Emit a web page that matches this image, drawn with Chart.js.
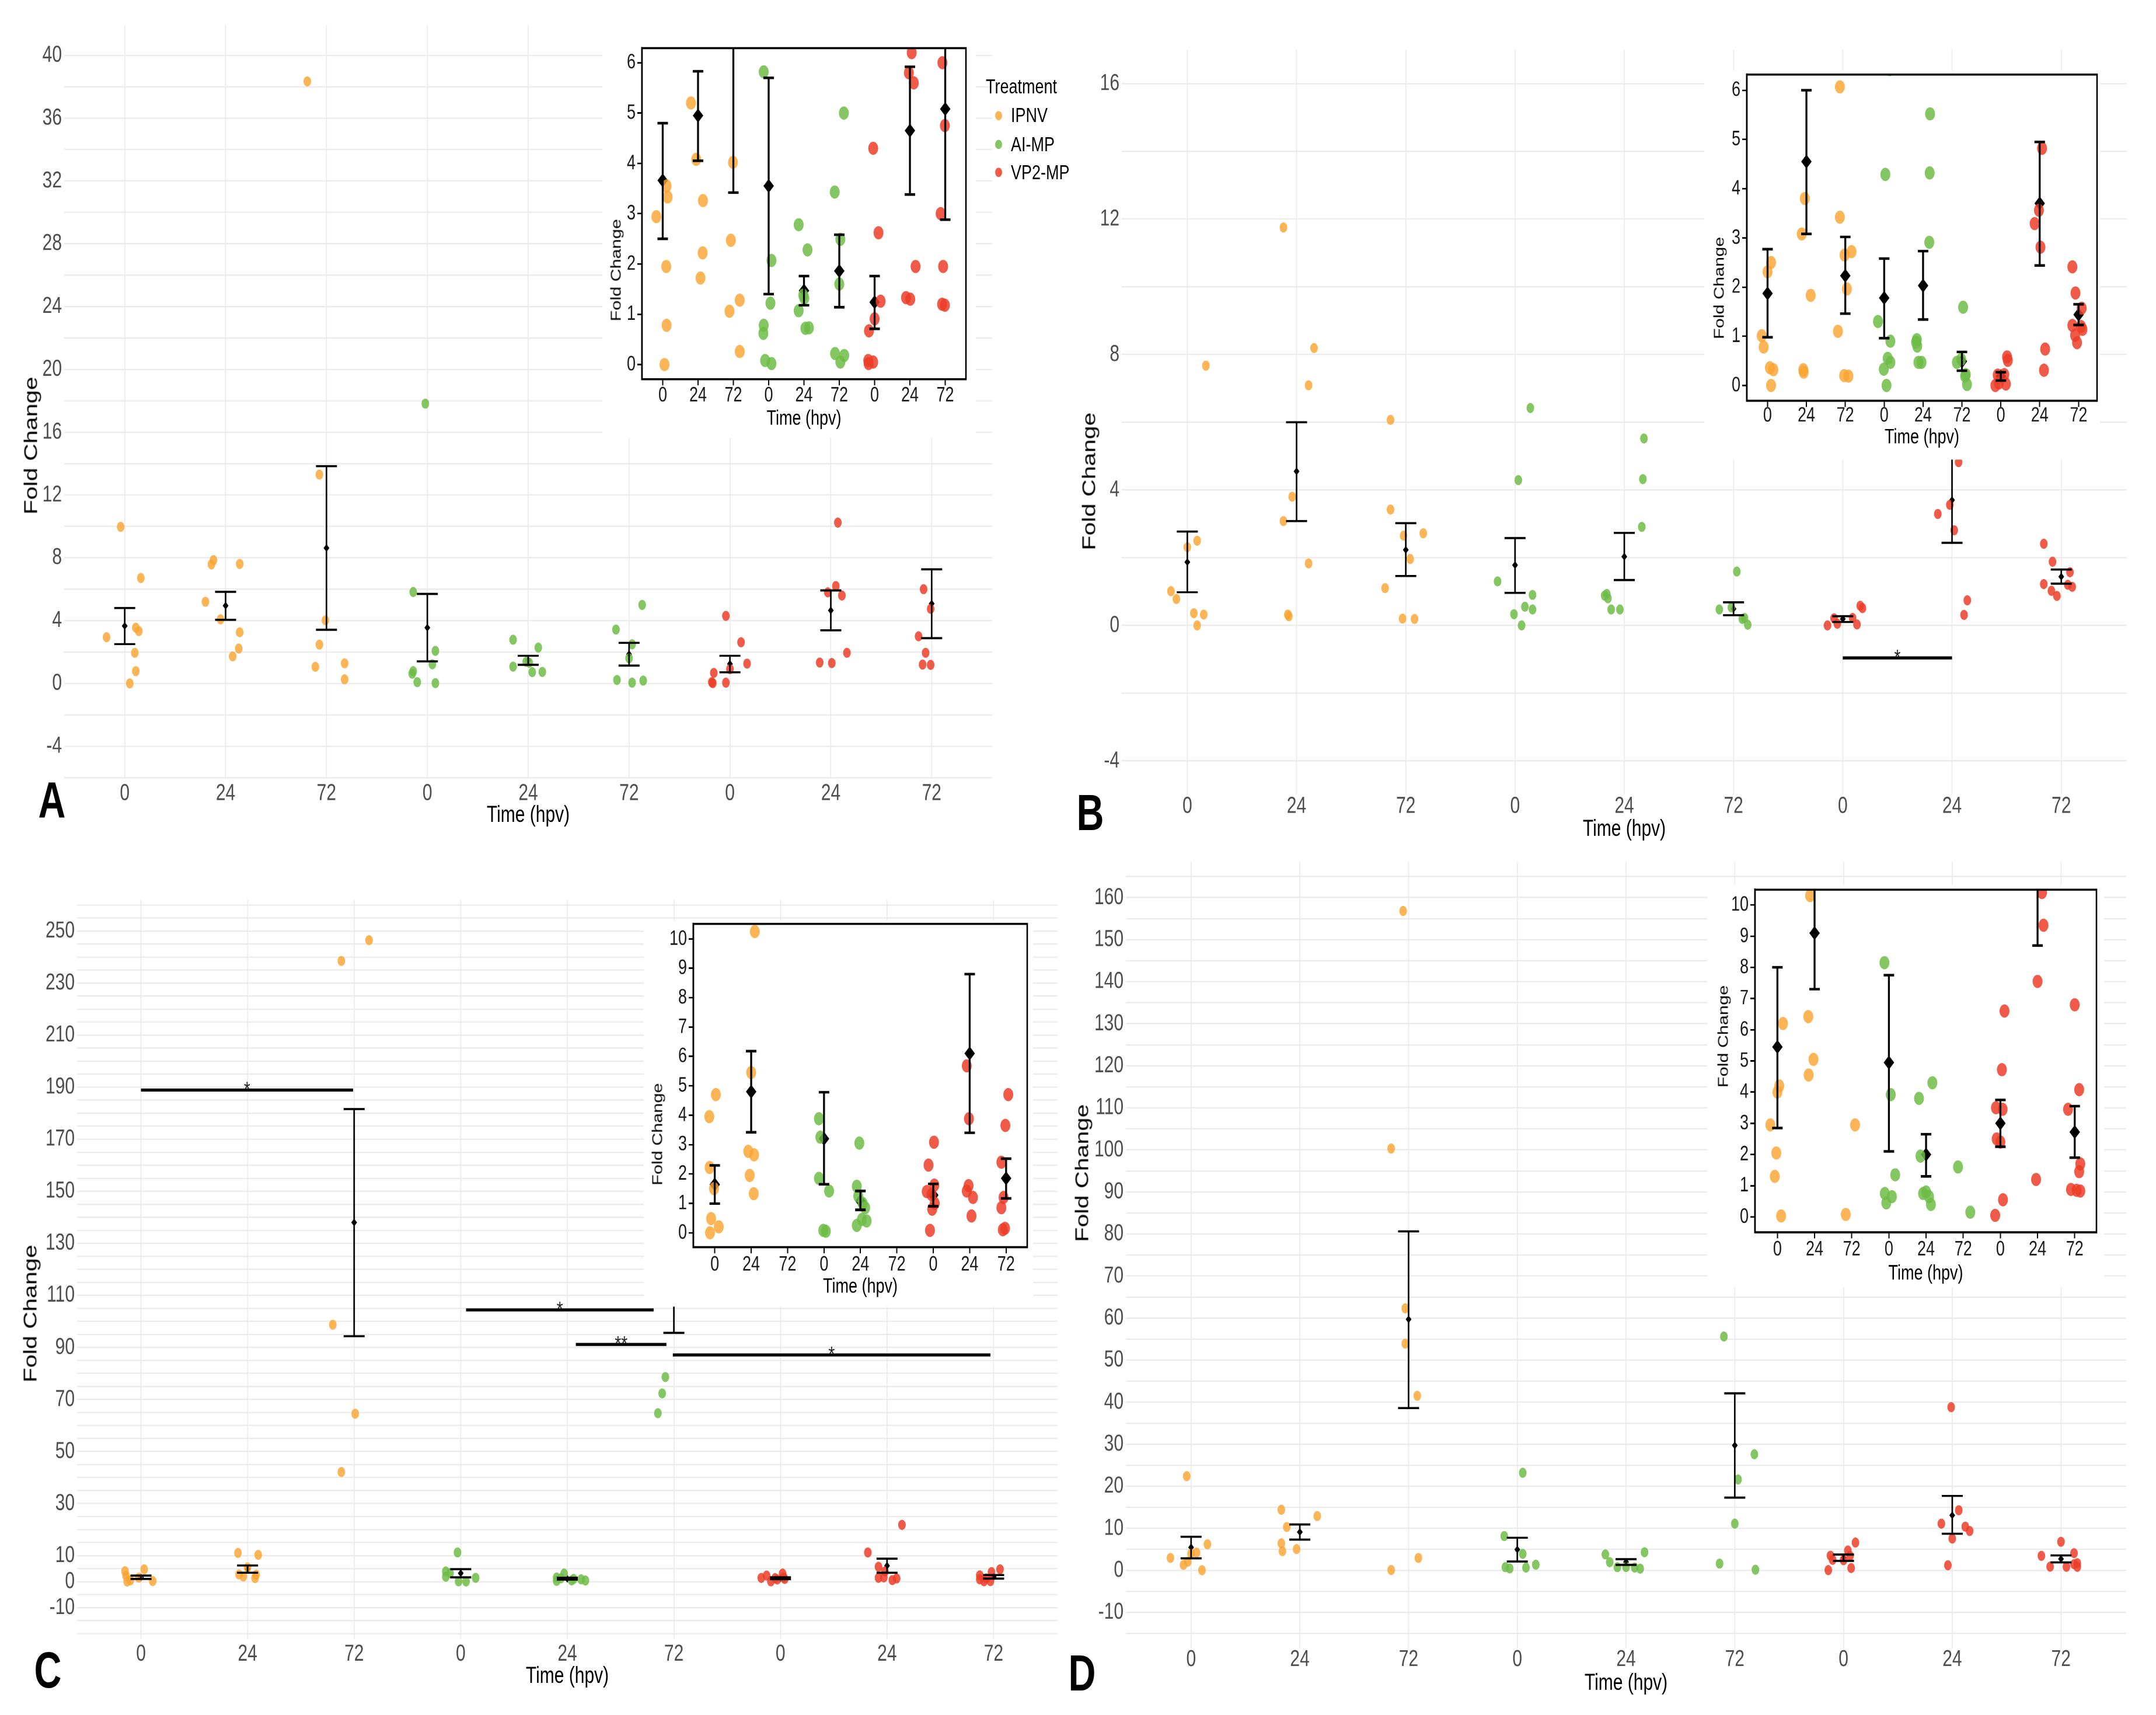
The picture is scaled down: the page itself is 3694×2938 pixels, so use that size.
<!DOCTYPE html>
<html>
<head>
<meta charset="utf-8">
<title>Fold change panels A-D</title>
<script src="https://cdn.jsdelivr.net/npm/chart.js@4.4.1/dist/chart.umd.min.js"></script>
<style>
  html, body { margin: 0; padding: 0; background: #fff; overflow: hidden; }
  #fig {
    position: absolute; left: 0; top: 0; width: 3694px; height: 2209px;
    transform: scaleY(1.33); transform-origin: 0 0;
    font-family: "Liberation Sans", Arial, Helvetica, sans-serif; color: #000;
  }
  .white { position: absolute; background: #fff; }
  .txt { position: absolute; white-space: nowrap; line-height: 1; }
</style>
</head>
<body>
<div id="fig"></div>
<script>
// ---- shared labels ----
const TIME_LABELS = ['0', '24', '72', '0', '24', '72', '0', '24', '72'];
const TREATMENTS = ['IPNV', 'AI-MP', 'VP2-MP'];
const COLORS = ['rgba(250,165,50,0.82)', 'rgba(110,188,70,0.85)', 'rgba(236,62,40,0.85)'];

// ---- panel A ----
const A_VALUES = [
  [9.97, 6.71, 3.55, 3.33, 2.94, 1.95, 0.78, 0.0],
  [7.85, 7.58, 7.61, 5.2, 4.08, 3.26, 2.22, 1.72],
  [38.34, 13.3, 4.02, 2.47, 1.28, 1.06, 0.26],
  [17.82, 5.82, 2.07, 1.22, 0.78, 0.62, 0.08, 0.02],
  [2.78, 2.28, 1.38, 1.32, 1.07, 0.73, 0.72],
  [5.0, 3.43, 2.49, 1.6, 0.22, 0.18, 0.05],
  [4.3, 2.62, 1.26, 0.91, 0.67, 0.08, 0.05, 0.02],
  [10.24, 6.2, 5.8, 5.6, 1.95, 1.33, 1.3],
  [6.0, 4.75, 3.0, 1.95, 1.2, 1.18]
];
const A_JITTER = [
  [-0.04, 0.16, 0.11, 0.14, -0.18, 0.10, 0.11, 0.05],
  [-0.12, -0.14, 0.14, -0.20, -0.05, 0.14, 0.13, 0.07],
  [-0.19, -0.07, -0.01, -0.07, 0.18, -0.11, 0.18],
  [-0.02, -0.14, 0.08, 0.05, -0.14, -0.15, -0.10, 0.08],
  [-0.15, 0.10, -0.02, 0.01, -0.15, 0.14, 0.04],
  [0.13, -0.13, 0.03, 0.0, -0.12, 0.14, 0.03],
  [-0.04, 0.11, 0.17, 0.0, -0.16, -0.18, -0.04, -0.17],
  [0.07, 0.05, -0.03, 0.11, 0.16, -0.11, 0.01],
  [-0.08, -0.01, -0.13, -0.06, -0.09, -0.01]
];
const A_MEAN = [3.66, 4.95, 8.62, 3.55, 1.47, 1.86, 1.24, 4.65, 5.08];
const A_LOW = [2.5, 4.05, 3.42, 1.4, 1.18, 1.14, 0.71, 3.38, 2.88];
const A_HIGH = [4.8, 5.83, 13.84, 5.7, 1.76, 2.58, 1.76, 5.92, 7.27];
const A_Y_LABELS = [-4, 0, 4, 8, 12, 16, 20, 24, 28, 32, 36, 40];
const A_INSET_Y_LABELS = [0, 1, 2, 3, 4, 5, 6];

// ---- panel B ----
const B_VALUES = [
  [7.67, 2.5, 2.31, 1.01, 0.78, 0.36, 0.32, 0.0],
  [11.75, 8.19, 7.09, 3.8, 3.08, 1.83, 0.32, 0.27],
  [6.07, 3.42, 2.72, 2.65, 1.96, 1.1, 0.2, 0.19],
  [6.42, 4.29, 1.3, 0.9, 0.55, 0.47, 0.33, 0.0],
  [5.52, 4.32, 2.91, 0.93, 0.88, 0.8, 0.47, 0.47],
  [1.59, 0.53, 0.47, 0.22, 0.19, 0.02],
  [0.58, 0.51, 0.22, 0.21, 0.05, 0.03, 0.0],
  [4.82, 3.56, 3.29, 2.81, 0.74, 0.31],
  [2.41, 1.88, 1.57, 1.22, 1.2, 1.14, 1.02, 0.87]
];
const B_JITTER = [
  [0.17, 0.09, 0.0, -0.15, -0.10, 0.06, 0.15, 0.09],
  [-0.12, 0.16, 0.11, -0.04, -0.12, 0.11, -0.08, -0.07],
  [-0.14, -0.14, 0.16, -0.02, 0.04, -0.19, -0.03, 0.08],
  [0.14, 0.03, -0.16, 0.16, 0.09, 0.16, -0.01, 0.06],
  [0.18, 0.17, 0.16, -0.16, -0.18, -0.15, -0.12, -0.04],
  [0.03, -0.02, -0.13, 0.10, 0.08, 0.13],
  [0.16, 0.18, 0.09, -0.08, -0.05, 0.13, -0.14],
  [0.06, -0.02, -0.13, 0.02, 0.14, 0.11],
  [-0.16, -0.08, 0.08, -0.16, 0.06, 0.10, -0.09, -0.04]
];
const B_MEAN = [1.87, 4.55, 2.23, 1.78, 2.03, 0.49, 0.19, 3.7, 1.44];
const B_LOW = [0.98, 3.08, 1.46, 0.96, 1.34, 0.3, 0.1, 2.44, 1.23];
const B_HIGH = [2.77, 6.0, 3.02, 2.58, 2.73, 0.68, 0.27, 4.95, 1.65];
const B_SIG = [[7, 8, -0.96, '*']];
const B_Y_LABELS = [-4, 0, 4, 8, 12, 16];
const B_INSET_Y_LABELS = [0, 1, 2, 3, 4, 5, 6];

// ---- panel C ----
const C_VALUES = [
  [4.7, 3.95, 2.22, 1.5, 0.48, 0.2, 0.0],
  [11.0, 10.25, 5.45, 2.77, 2.65, 1.95, 1.33],
  [246.5, 238.5, 98.7, 64.5, 42.1],
  [11.2, 3.88, 3.25, 1.85, 1.42, 0.08, 0.05],
  [3.05, 1.58, 1.25, 1.0, 0.85, 0.45, 0.4, 0.25],
  [78.6, 72.3, 64.7],
  [3.08, 2.3, 1.62, 1.4, 1.3, 1.0, 0.8, 0.08],
  [21.8, 11.2, 5.68, 3.88, 1.6, 1.42, 1.2, 0.57],
  [4.7, 3.65, 2.4, 1.2, 0.85, 0.15, 0.1]
];
const C_JITTER = [
  [0.03, -0.15, -0.14, -0.02, -0.10, 0.11, -0.13],
  [-0.09, 0.10, 0.0, -0.08, 0.08, -0.04, 0.07],
  [0.14, -0.12, -0.20, 0.01, -0.12],
  [-0.03, -0.14, -0.10, -0.14, 0.14, -0.02, 0.05],
  [-0.03, -0.10, -0.06, 0.06, 0.13, 0.04, 0.17, -0.10],
  [-0.08, -0.11, -0.15],
  [0.02, -0.13, 0.03, -0.18, -0.05, 0.04, -0.03, -0.09],
  [0.14, -0.18, -0.08, -0.02, -0.03, -0.08, 0.09, 0.05],
  [0.06, -0.02, -0.13, -0.07, -0.13, -0.03, -0.09]
];
const C_MEAN = [1.64, 4.8, 138, 3.2, 1.08, 140, 1.28, 6.1, 1.85];
const C_LOW = [0.99, 3.42, 94.3, 1.65, 0.78, 95.6, 0.9, 3.4, 1.17];
const C_HIGH = [2.29, 6.18, 181.6, 4.78, 1.42, 185, 1.66, 8.8, 2.52];
const C_SIG = [[1, 2.99, 188.9, '*'], [4.05, 5.81, 104.4, '*'], [5.08, 5.93, 91.1, '**'], [5.99, 8.97, 87.1, '*']];
const C_Y_LABELS = [-10, 0, 10, 30, 50, 70, 90, 110, 130, 150, 170, 190, 210, 230, 250];
const C_INSET_Y_LABELS = [0, 1, 2, 3, 4, 5, 6, 7, 8, 9, 10];

// ---- panel D ----
const D_VALUES = [
  [22.4, 6.2, 4.2, 4.0, 2.95, 2.05, 1.3, 0.03],
  [14.4, 12.9, 10.3, 6.42, 5.05, 4.55],
  [156.8, 100.3, 62.3, 53.9, 41.5, 2.95, 0.08],
  [23.2, 8.15, 3.92, 1.35, 0.75, 0.65, 0.45],
  [4.3, 3.8, 1.95, 0.8, 0.75, 0.65, 0.4],
  [55.6, 27.6, 21.6, 11.1, 1.6, 0.15],
  [6.6, 4.72, 3.5, 3.45, 2.5, 2.4, 0.55, 0.05],
  [38.8, 14.3, 11.1, 10.4, 9.35, 7.55, 1.2],
  [6.8, 4.08, 3.45, 1.7, 1.45, 0.88, 0.85, 0.83]
];
const D_JITTER = [
  [-0.04, 0.15, 0.05, 0.0, -0.19, -0.03, -0.07, 0.10],
  [-0.17, 0.16, -0.12, -0.17, -0.03, -0.16],
  [-0.05, -0.16, -0.03, -0.03, 0.08, 0.09, -0.16],
  [0.05, -0.12, 0.05, 0.17, -0.11, 0.08, -0.07],
  [0.17, -0.19, -0.15, 0.0, -0.08, 0.08, 0.13],
  [-0.10, 0.18, 0.03, 0.0, -0.14, 0.19],
  [0.11, 0.04, -0.12, 0.06, -0.10, 0.0, 0.07, -0.14],
  [-0.01, 0.06, -0.10, 0.12, 0.16, 0.0, -0.04],
  [0.0, 0.12, -0.18, 0.15, 0.12, -0.10, 0.05, 0.15]
];
const D_MEAN = [5.45, 9.1, 59.7, 4.95, 2.0, 29.7, 3.0, 13.1, 2.72];
const D_LOW = [2.85, 7.3, 38.6, 2.1, 1.3, 17.3, 2.25, 8.7, 1.9];
const D_HIGH = [8.0, 10.9, 80.6, 7.75, 2.65, 42.1, 3.75, 17.7, 3.55];
const D_Y_LABELS = [-10, 0, 10, 20, 30, 40, 50, 60, 70, 80, 90, 100, 110, 120, 130, 140, 150, 160];
const D_INSET_Y_LABELS = [0, 1, 2, 3, 4, 5, 6, 7, 8, 9, 10];

// ---- page setup ----
const K = 1.33; // the figure is stretched vertically
const FONT = '"Liberation Sans", Arial, Helvetica, sans-serif';
const fig = document.getElementById('fig');
Chart.defaults.font.family = FONT;
Chart.defaults.animation = false;

function gridValues(min, max, step) {
  const out = [];
  for (let v = Math.ceil(min / step) * step; v <= max + 1e-9; v += step) out.push(Math.round(v * 1000) / 1000);
  return out;
}

function addCanvas(x, yOrig, w, h) {
  const c = document.createElement('canvas');
  c.width = Math.round(w); c.height = Math.round(h);
  c.style.position = 'absolute';
  c.style.left = x + 'px';
  c.style.top = (yOrig / K) + 'px';
  c.style.width = Math.round(w) + 'px';
  c.style.height = Math.round(h) + 'px';
  fig.appendChild(c);
  return c;
}

function addWhite([x1, y1, x2, y2]) {
  const d = document.createElement('div');
  d.className = 'white';
  d.style.left = x1 + 'px'; d.style.top = (y1 / K) + 'px';
  d.style.width = (x2 - x1) + 'px'; d.style.height = ((y2 - y1) / K) + 'px';
  fig.appendChild(d);
}

function addText(str, x, y, size, extra) {
  const d = document.createElement('div');
  d.className = 'txt';
  d.textContent = str;
  d.style.left = x + 'px'; d.style.top = (y / K) + 'px';
  d.style.fontSize = size + 'px';
  d.style.transform = 'translate(-50%,-50%)' + (extra && extra.rotate ? ' rotate(-90deg)' : '');
  if (extra && extra.bold) d.style.fontWeight = 'bold';
  if (extra && extra.left) d.style.transform = 'translate(0,-50%)';
  fig.appendChild(d);
  return d;
}

// keep the plotting area exactly where the layout puts it
function fixX(h) {
  return s => { s.height = h; s.paddingLeft = 0; s.paddingRight = 0; s.paddingTop = 0; s.paddingBottom = 0; };
}
function fixY(w) {
  return s => { s.width = w; s.paddingLeft = 0; s.paddingRight = 0; s.paddingTop = 0; s.paddingBottom = 0; };
}

function makeDatasets(v, r, mr) {
  const sets = TREATMENTS.map((t, ti) => ({
    label: t,
    backgroundColor: COLORS[ti],
    borderWidth: 0,
    pointRadius: r,
    pointHoverRadius: r,
    data: [0, 1, 2].flatMap(j => {
      const g = ti * 3 + j;
      return v.values[g].map((y, k) => ({ x: g + 1 + v.jitter[g][k], y }));
    })
  }));
  sets.push({
    label: 'mean',
    backgroundColor: '#000',
    borderWidth: 0,
    pointStyle: 'rectRot',
    pointRadius: mr,
    pointHoverRadius: mr,
    data: v.mean.map((m, i) => ({ x: i + 1, y: m }))
  });
  return sets;
}

// mean +- SE whiskers, drawn from the data through the chart scales
function errorBars(v, cap, width) {
  return {
    id: 'errorBars',
    afterDatasetsDraw(chart) {
      const { ctx, chartArea: a, scales: { x, y } } = chart;
      ctx.save();
      ctx.beginPath(); ctx.rect(a.left, a.top, a.width, a.height); ctx.clip();
      ctx.strokeStyle = '#000'; ctx.lineWidth = width;
      v.mean.forEach((m, i) => {
        const px = x.getPixelForValue(i + 1);
        const lo = y.getPixelForValue(v.low[i]);
        const hi = y.getPixelForValue(v.high[i]);
        ctx.beginPath();
        ctx.moveTo(px, lo); ctx.lineTo(px, hi);
        ctx.moveTo(px - cap, lo); ctx.lineTo(px + cap, lo);
        ctx.moveTo(px - cap, hi); ctx.lineTo(px + cap, hi);
        ctx.stroke();
      });
      ctx.restore();
    }
  };
}

// significance brackets
function sigBars(bars, width, size) {
  return {
    id: 'sigBars',
    afterDatasetsDraw(chart) {
      const { ctx, scales: { x, y } } = chart;
      ctx.save();
      ctx.strokeStyle = '#000'; ctx.fillStyle = '#222'; ctx.lineWidth = width;
      ctx.font = size + 'px ' + FONT;
      ctx.textAlign = 'center'; ctx.textBaseline = 'alphabetic';
      bars.forEach(([x1, x2, yv, label]) => {
        const py = y.getPixelForValue(yv);
        ctx.beginPath();
        ctx.moveTo(x.getPixelForValue(x1), py); ctx.lineTo(x.getPixelForValue(x2), py);
        ctx.stroke();
        ctx.fillText(label, x.getPixelForValue((x1 + x2) / 2), py + size * 0.3);
      });
      ctx.restore();
    }
  };
}

const frame = {
  id: 'frame',
  afterDraw(chart) {
    const { ctx, chartArea: a } = chart;
    ctx.save(); ctx.strokeStyle = '#000'; ctx.lineWidth = 2.6;
    ctx.strokeRect(a.left, a.top, a.width, a.height);
    ctx.restore();
  }
};

function buildMain(L, v) {
  const YW = 90, FS = 30;
  const xh = L.titleOff / K + FS / 2;
  const w = (L.right - L.left) + YW;
  const h = (L.bottom - L.top) / K + xh;
  const canvas = addCanvas(L.left - YW, L.top, w, h);
  const grid = gridValues(L.ymin, L.ymax, L.step);
  new Chart(canvas, {
    type: 'scatter',
    data: { datasets: makeDatasets(v, 6.5, 5) },
    options: {
      responsive: false, devicePixelRatio: 2, events: [],
      layout: { padding: 0, autoPadding: false },
      plugins: { legend: { display: false }, tooltip: { enabled: false } },
      scales: {
        x: {
          type: 'linear', min: 0.4, max: 9.6,
          afterBuildTicks: s => { s.ticks = TIME_LABELS.map((t, i) => ({ value: i + 1 })); },
          afterFit: fixX(xh),
          ticks: {
            autoSkip: false, maxRotation: 0, padding: L.tickOff / K - FS / 2,
            color: '#4D4D4D', font: { size: FS, lineHeight: 1 },
            callback: val => TIME_LABELS[Math.round(val) - 1]
          },
          grid: { color: '#EBEBEB', lineWidth: 1.7, drawTicks: false },
          border: { display: false },
          title: { display: true, text: 'Time (hpv)', color: '#000', font: { size: FS, lineHeight: 1 }, padding: { top: 0, bottom: 0 } }
        },
        y: {
          type: 'linear', min: L.ymin, max: L.ymax,
          afterBuildTicks: s => { s.ticks = grid.map(g => ({ value: g })); },
          afterFit: fixY(YW),
          ticks: {
            autoSkip: false, padding: 4, color: '#4D4D4D', font: { size: FS },
            callback: val => (L.labels.includes(val) ? String(val) : '')
          },
          grid: { color: '#EBEBEB', lineWidth: 1.7, drawTicks: false },
          border: { display: false }
        }
      }
    },
    plugins: [errorBars(v, 18, 2.7), sigBars(v.sig || [], 4, 28)]
  });
}

function buildInset(L, v) {
  const YW = 56, FS = 27, PAD = 4;
  const xh = L.titleOff / K + FS / 2;
  const w = (L.right - L.left) + YW + PAD;
  const h = (L.bottom - L.top) / K + xh + PAD;
  const canvas = addCanvas(L.left - YW, L.top - PAD * K, w, h);
  new Chart(canvas, {
    type: 'scatter',
    data: { datasets: makeDatasets(v, 8.5, 9) },
    options: {
      responsive: false, devicePixelRatio: 2, events: [],
      layout: { padding: { top: PAD, right: PAD, left: 0, bottom: 0 }, autoPadding: false },
      plugins: { legend: { display: false }, tooltip: { enabled: false } },
      scales: {
        x: {
          type: 'linear', min: L.xmin, max: L.xmax,
          afterBuildTicks: s => { s.ticks = TIME_LABELS.map((t, i) => ({ value: i + 1 })); },
          afterFit: fixX(xh),
          ticks: {
            autoSkip: false, maxRotation: 0, padding: L.tickOff / K - 8 - FS / 2,
            color: '#1a1a1a', font: { size: FS, lineHeight: 1 },
            callback: val => TIME_LABELS[Math.round(val) - 1]
          },
          grid: { drawOnChartArea: false, drawTicks: true, tickLength: 8, color: '#000', lineWidth: 2 },
          border: { display: true, color: '#000', width: 2.6 },
          title: { display: true, text: 'Time (hpv)', color: '#000', font: { size: FS, lineHeight: 1 }, padding: { top: 0, bottom: 0 } }
        },
        y: {
          type: 'linear', min: L.ymin, max: L.ymax,
          afterBuildTicks: s => { s.ticks = L.labels.map(g => ({ value: g })); },
          afterFit: fixY(YW),
          ticks: { autoSkip: false, padding: 3, color: '#1a1a1a', font: { size: FS }, callback: val => String(val) },
          grid: { drawOnChartArea: false, drawTicks: true, tickLength: 8, color: '#000', lineWidth: 2 },
          border: { display: true, color: '#000', width: 2.6 }
        }
      }
    },
    plugins: [errorBars(v, 9, 3.3), frame]
  });
}

// ---- series bundles ----
const A = { values: A_VALUES, jitter: A_JITTER, mean: A_MEAN, low: A_LOW, high: A_HIGH };
const B = { values: B_VALUES, jitter: B_JITTER, mean: B_MEAN, low: B_LOW, high: B_HIGH, sig: B_SIG };
const C = { values: C_VALUES, jitter: C_JITTER, mean: C_MEAN, low: C_LOW, high: C_HIGH, sig: C_SIG };
const D = { values: D_VALUES, jitter: D_JITTER, mean: D_MEAN, low: D_LOW, high: D_HIGH };

// ---- main panels (page pixel coords of the plotting areas) ----
buildMain({ left: 109.7, right: 1700.1, top: 41.9, bottom: 1333.3, ymin: -6.05, ymax: 41.94, step: 2, labels: A_Y_LABELS, tickOff: 26, titleOff: 63 }, A);
buildMain({ left: 1922.3, right: 3644, top: 84.5, bottom: 1360.9, ymin: -5, ymax: 17, step: 2, labels: B_Y_LABELS, tickOff: 20, titleOff: 59 }, B);
buildMain({ left: 132.3, right: 1812, top: 1541.3, bottom: 2806.9, ymin: -22, ymax: 262, step: 5, labels: C_Y_LABELS, tickOff: 26.5, titleOff: 64 }, C);
buildMain({ left: 1929.3, right: 3643.3, top: 1476.1, bottom: 2823.4, ymin: -18.5, ymax: 168.5, step: 5, labels: D_Y_LABELS, tickOff: 20, titleOff: 60 }, D);

// ---- white backgrounds behind the insets ----
addWhite([1032, 0, 1672, 750]);
addWhite([2920, 121, 3598, 787]);
addWhite([1103, 1578, 1770, 2238]);
addWhite([2925, 1516, 3605, 2205]);

// ---- insets ----
buildInset({ left: 1099.6, right: 1654.1, top: 81.9, bottom: 649.0, ymin: -0.29, ymax: 6.29, xmin: 0.414, xmax: 9.586, labels: A_INSET_Y_LABELS, tickOff: 28, titleOff: 68 }, A);
buildInset({ left: 2993, right: 3592.8, top: 127.6, bottom: 686.2, ymin: -0.31, ymax: 6.32, xmin: 0.468, xmax: 9.475, labels: B_INSET_Y_LABELS, tickOff: 26, titleOff: 63 }, B);
buildInset({ left: 1188, right: 1760, top: 1582.5, bottom: 2136.8, ymin: -0.49, ymax: 10.51, xmin: 0.413, xmax: 9.58, labels: C_INSET_Y_LABELS, tickOff: 30, titleOff: 68 }, C);
buildInset({ left: 3006.8, right: 3591.3, top: 1524.1, bottom: 2110.4, ymin: -0.49, ymax: 10.49, xmin: 0.398, xmax: 9.585, labels: D_INSET_Y_LABELS, tickOff: 30, titleOff: 71 }, D);

// ---- axis titles placed as in the figure ----
addText('Fold Change', 53, 763, 31, { rotate: true });
addText('Fold Change', 1866, 825, 31, { rotate: true });
addText('Fold Change', 52, 2251, 31, { rotate: true });
addText('Fold Change', 1854, 2010, 31, { rotate: true });
addText('Fold Change', 1056, 463, 23, { rotate: true });
addText('Fold Change', 2946, 494, 23, { rotate: true });
addText('Fold Change', 1127, 1943, 23, { rotate: true });
addText('Fold Change', 2953, 1776, 23, { rotate: true });

// ---- panel letters ----
addText('A', 89, 1370, 65, { bold: true });
addText('B', 1868, 1392, 65, { bold: true });
addText('C', 82, 2861, 65, { bold: true });
addText('D', 1854, 2866, 65, { bold: true });

// ---- legend of panel A ----
addText('Treatment', 1689, 149, 27, { left: true });
const LEGEND_Y = [198, 247, 295];
TREATMENTS.forEach((t, i) => {
  const dot = document.createElement('div');
  dot.style.cssText = 'position:absolute;width:12px;height:12px;border-radius:50%;transform:translate(-50%,-50%);';
  dot.style.left = '1711px';
  dot.style.top = (LEGEND_Y[i] / K) + 'px';
  dot.style.background = COLORS[i];
  fig.appendChild(dot);
  addText(t, 1732, LEGEND_Y[i], 27, { left: true });
});
</script>
</body>
</html>
